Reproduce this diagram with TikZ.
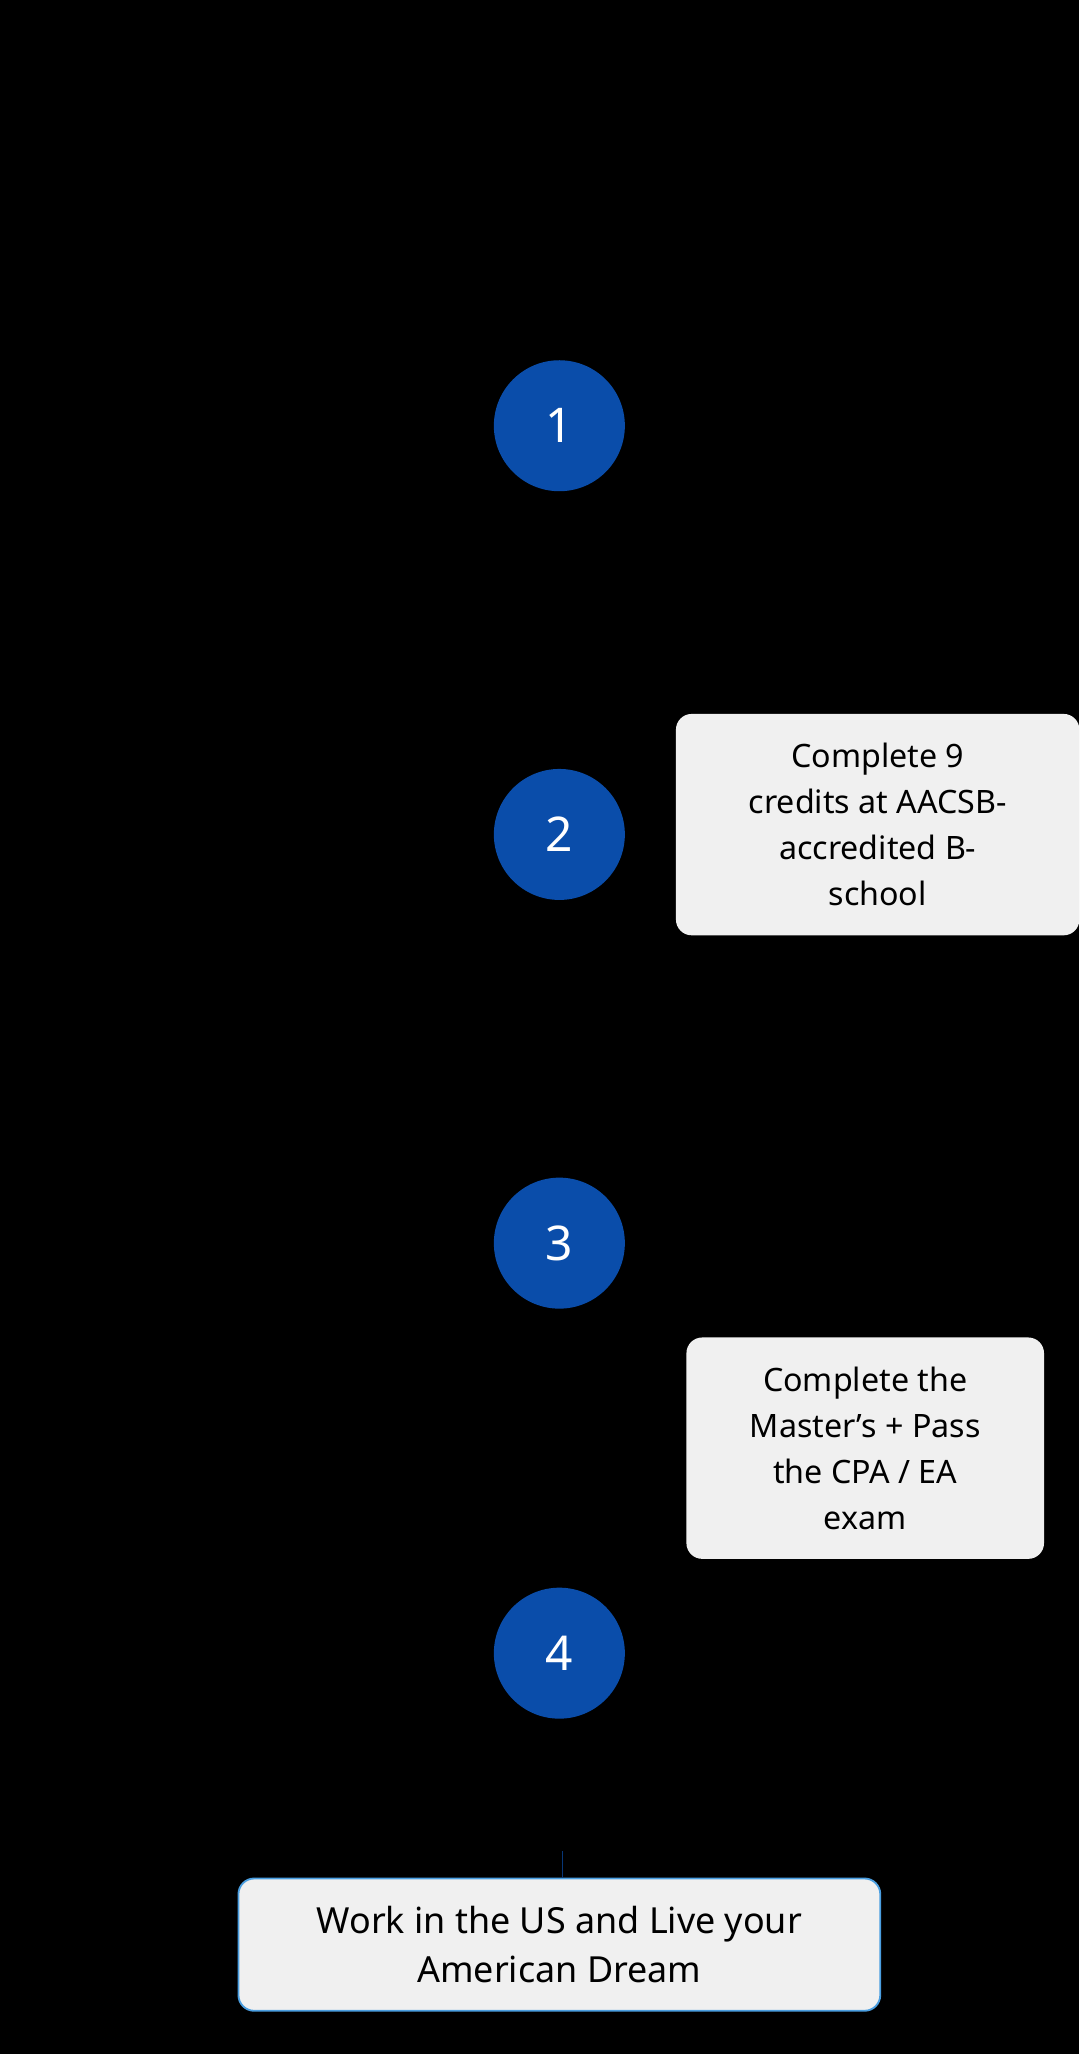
\documentclass[tikz,border=0pt]{standalone}
\usepackage{fontspec}
\setmainfont{Noto Sans}
\usetikzlibrary{positioning}
\definecolor{stepblue}{HTML}{0A4DAA}
\definecolor{boxgray}{HTML}{F0F0F0}
\definecolor{glowblue}{HTML}{4A9EE0}
\tikzset{
  stepdot/.style={circle, fill=stepblue, minimum size=5cm, inner sep=0pt,
    text=white, font=\fontsize{52}{52}\selectfont\bfseries},
  note/.style={rounded corners=0.6cm, fill=boxgray, inner sep=0pt,
    align=center, font=\fontsize{35}{50}\selectfont\bfseries},
}
\begin{document}
\begin{tikzpicture}[x=0.05cm,y=-0.05cm]
\fill[black] (0,0) rectangle (824,1568);
\useasboundingbox (0,0) rectangle (824,1568);
%\draw[step=50,gray,very thin] (0,0) grid (824,1568);
\node[stepdot] (s1) at (427,325) {1};
\node[stepdot] (s2) at (427,637) {2};
\node[stepdot] (s3) at (427,949) {3};
\node[stepdot] (s4) at (427,1262) {4};
\node[note, minimum width=15.4cm, minimum height=8.45cm] (n2) at (670,629.5)
  {Complete 9\\credits at AACSB-\\accredited B-\\school};
\node[note, minimum width=13.65cm, minimum height=8.45cm] (n3) at (660.5,1105.5)
  {Complete the\\Master’s + Pass\\the CPA / EA\\exam};
\node[note, draw=glowblue, line width=2pt, minimum width=24.5cm, minimum height=5.05cm,
  font=\fontsize{39}{54}\selectfont\bfseries] (goal) at (427,1484.5)
  {Work in the US and Live your\\American Dream};
\coordinate (lineTop) at (429,1413);
\draw[stepblue!70!black, line width=1pt] (lineTop) -- (lineTop |- goal.north);
\end{tikzpicture}
\end{document}
